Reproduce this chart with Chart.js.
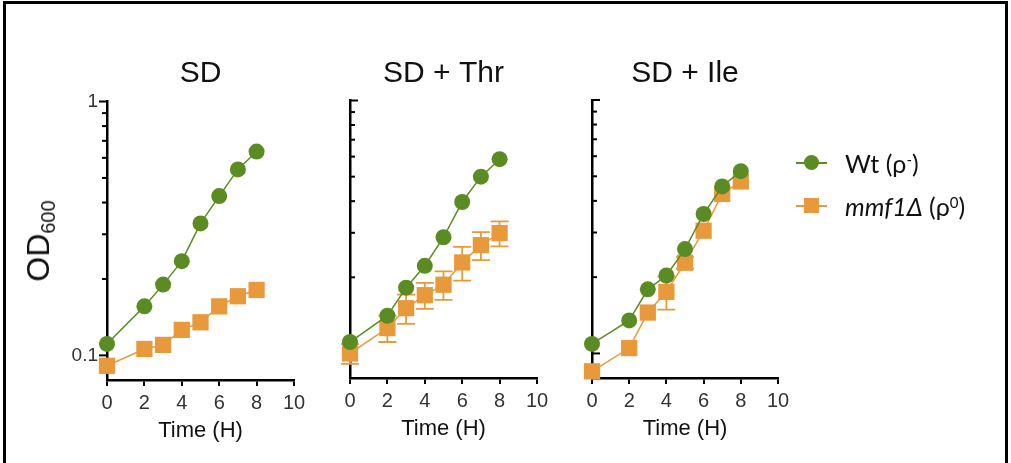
<!DOCTYPE html>
<html>
<head>
<meta charset="utf-8">
<script src="https://cdn.jsdelivr.net/npm/chart.js@4.4.1/dist/chart.umd.min.js"></script>
<style>
  html, body { margin: 0; padding: 0; background: #fff; }
  body { width: 1011px; height: 463px; position: relative; overflow: hidden; font-family: "Liberation Sans", Arial, sans-serif; }
  .frame { position: absolute; left: 3px; top: 1px; width: 1005px; height: 500px; border: 3px solid #000; box-sizing: border-box; }
  canvas.panel { position: absolute; left: 0; top: 0; }
  .ytitle { position: absolute; left: 40px; top: 241px; transform: translate(-50%, -50%) rotate(-90deg); font-size: 32px; white-space: nowrap; color: #111; }
  .ytitle sub { font-size: 20px; vertical-align: -0.3em; }
  .legend-row { position: absolute; left: 790px; height: 30px; }
  .legend-line { position: absolute; left: 6px; top: 14px; width: 31px; height: 2px; }
  .legend-mark { position: absolute; width: 15px; height: 15px; left: 14px; top: 7px; }
  .legend-text { position: absolute; left: 55px; top: 0; line-height: 30px; font-family: Lato, "Open Sans", sans-serif; font-size: 25px; color: #111; white-space: nowrap; }
  .legend-text sup { font-size: 15px; vertical-align: 0.55em; line-height: 0; }
</style>
</head>
<body>
<div class="frame"></div>
<canvas class="panel" id="panel-sd" width="1011" height="463"></canvas>
<canvas class="panel" id="panel-thr" width="1011" height="463"></canvas>
<canvas class="panel" id="panel-ile" width="1011" height="463"></canvas>
<div class="ytitle">OD<sub>600</sub></div>
<div class="legend-row" style="top:148px">
  <div class="legend-line" style="background:#5b8c23"></div>
  <div class="legend-mark" style="background:#5b8c23;border-radius:50%"></div>
  <div class="legend-text">Wt (ρ<sup>-</sup>)</div>
</div>
<div class="legend-row" style="top:191px">
  <div class="legend-line" style="background:#e8993c"></div>
  <div class="legend-mark" style="background:#e8993c"></div>
  <div class="legend-text"><i>mmf1Δ</i> (ρ<sup>0</sup>)</div>
</div>
<script>
// Data
const hours = [0, 2, 3, 4, 5, 6, 7, 8];
const panelTitles = ['SD', 'SD + Thr', 'SD + Ile'];
const seriesNames = ['Wt (ρ-)', 'mmf1Δ (ρ0)'];
const yTickValues = [0.1, 0.2, 0.3, 0.4, 0.5, 0.6, 0.7, 0.8, 0.9, 1];
const yTickLabels = { '1': '1', '0.1': '0.1' };

const wtSD   = [0.111, 0.156, 0.190, 0.235, 0.331, 0.424, 0.540, 0.635];
const mutSD  = [0.091, 0.106, 0.110, 0.126, 0.135, 0.156, 0.171, 0.181];
const mutSDErr = [0, 0, 0, 0, 0, 0, 0, 0];

const wtThr  = [0.111, 0.141, 0.182, 0.222, 0.288, 0.397, 0.500, 0.586];
const mutThr = [0.100, 0.126, 0.151, 0.170, 0.187, 0.229, 0.268, 0.299];
const mutThrErr = [0.009, 0.015, 0.020, 0.020, 0.024, 0.035, 0.034, 0.034];

const wtIle  = [0.109, 0.135, 0.179, 0.203, 0.258, 0.355, 0.456, 0.524];
const mutIle = [0.085, 0.105, 0.145, 0.175, 0.228, 0.305, 0.426, 0.477];
const mutIleErr = [0, 0, 0, 0.026, 0.012, 0, 0, 0];

// Colors
const GREEN = '#5b8c23';
const ORANGE = '#e8993c';

const Y_AXIS_W = 40;
const X_AXIS_H = 64;

Chart.defaults.font.family = '"Liberation Sans", Arial, sans-serif';

// Error bars, drawn under the markers
const errorBarsPlugin = {
    id: 'errorBars',
    beforeDatasetsDraw(chart) {
        const ctx = chart.ctx;
        const xs = chart.scales.x;
        const ys = chart.scales.y;
        chart.data.datasets.forEach(ds => {
            if (!ds.errors) return;
            ctx.save();
            ctx.strokeStyle = ds.borderColor;
            ctx.lineWidth = 1.8;
            ds.data.forEach((p, i) => {
                const e = ds.errors[i];
                if (!e) return;
                const x = xs.getPixelForValue(p.x);
                const yTop = ys.getPixelForValue(p.y + e);
                const yBot = ys.getPixelForValue(p.y - e);
                ctx.beginPath();
                ctx.moveTo(x, yTop); ctx.lineTo(x, yBot);
                ctx.moveTo(x - 9, yTop); ctx.lineTo(x + 9, yTop);
                ctx.moveTo(x - 9, yBot); ctx.lineTo(x + 9, yBot);
                ctx.stroke();
            });
            ctx.restore();
        });
    }
};

// Log-axis tick marks (outside on first panel, inside on the others)
const yTickMarksPlugin = {
    id: 'yTickMarks',
    beforeDatasetsDraw(chart, args, opts) {
        const ctx = chart.ctx;
        const ys = chart.scales.y;
        const x0 = chart.chartArea.left;
        const dir = opts.inside ? 1 : -1;
        ctx.save();
        ctx.strokeStyle = '#000';
        ctx.lineWidth = 2;
        yTickValues.forEach(v => {
            const y = ys.getPixelForValue(v);
            const len = yTickLabels[v] ? 8 : 5;
            ctx.beginPath();
            ctx.moveTo(x0, y);
            ctx.lineTo(x0 + dir * len, y);
            ctx.stroke();
        });
        ctx.restore();
    }
};

function toPoints(values) {
    return values.map((v, i) => ({ x: hours[i], y: v }));
}

function makePanel(canvasId, title, wt, mut, mutErr, area, showYLabels) {
    return new Chart(document.getElementById(canvasId), {
        type: 'line',
        data: {
            datasets: [{
                label: seriesNames[0],
                data: toPoints(wt),
                borderColor: GREEN,
                backgroundColor: GREEN,
                borderWidth: 1.5,
                pointStyle: 'circle',
                pointRadius: 8,
                pointBorderWidth: 0,
                clip: false,
                order: 1
            }, {
                label: seriesNames[1],
                data: toPoints(mut),
                errors: mutErr,
                borderColor: ORANGE,
                backgroundColor: ORANGE,
                borderWidth: 1.5,
                pointStyle: 'rect',
                pointRadius: 11.5,
                pointBorderWidth: 0,
                clip: false,
                order: 2
            }]
        },
        options: {
            responsive: false,
            animation: false,
            events: [],
            layout: {
                padding: {
                    left: area.left - Y_AXIS_W,
                    right: 1011 - area.right,
                    top: 50,
                    bottom: 463 - area.bottom - X_AXIS_H
                }
            },
            plugins: {
                legend: { display: false },
                tooltip: { enabled: false },
                title: {
                    display: true,
                    text: title,
                    fullSize: false,
                    color: '#111',
                    font: { size: 30, weight: 'normal' },
                    padding: { top: 6, bottom: area.top - 50 - 6 - 36 }
                },
                yTickMarks: { inside: !showYLabels }
            },
            scales: {
                x: {
                    type: 'linear',
                    min: 0,
                    max: 10,
                    afterFit: s => { s.height = X_AXIS_H; },
                    ticks: { stepSize: 2, color: '#333', font: { size: 20 }, padding: 5, maxRotation: 0 },
                    grid: { drawOnChartArea: false, drawTicks: true, tickLength: 6, color: '#000', lineWidth: 2 },
                    border: { color: '#000', width: 2.5 },
                    title: { display: true, text: 'Time (H)', color: '#111', font: { size: 22 }, padding: 0 }
                },
                y: {
                    type: 'logarithmic',
                    min: 0.08,
                    max: 1,
                    afterFit: s => { s.width = Y_AXIS_W; },
                    afterBuildTicks: s => { s.ticks = yTickValues.map(v => ({ value: v })); },
                    ticks: {
                        display: showYLabels,
                        autoSkip: false,
                        color: '#333',
                        font: { size: 19 },
                        padding: 9,
                        callback: v => yTickLabels[v] || ''
                    },
                    grid: { display: false, drawTicks: false },
                    border: { color: '#000', width: 2.5 }
                }
            }
        },
        plugins: [errorBarsPlugin, yTickMarksPlugin]
    });
}

makePanel('panel-sd', panelTitles[0], wtSD, mutSD, mutSDErr, { left: 107, right: 294, top: 101.5, bottom: 380 }, true);
makePanel('panel-thr', panelTitles[1], wtThr, mutThr, mutThrErr, { left: 350, right: 537, top: 100.5, bottom: 378 }, false);
makePanel('panel-ile', panelTitles[2], wtIle, mutIle, mutIleErr, { left: 592, right: 778, top: 100, bottom: 378 }, false);
</script>
</body>
</html>
